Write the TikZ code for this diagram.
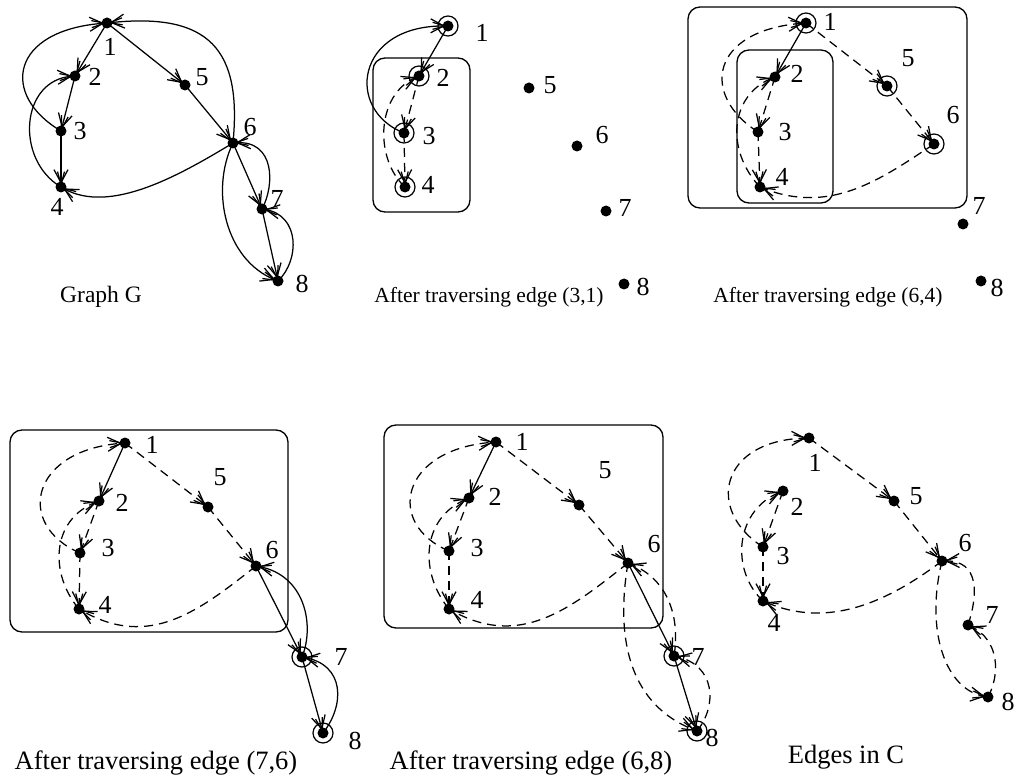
\documentclass[tikz,border=0pt]{standalone}
\usepackage{fontspec}
\setmainfont{Liberation Serif}
\usetikzlibrary{arrows.meta}
\begin{document}
\begin{tikzpicture}[x=1pt,y=-1pt,
  dot/.style={circle,fill=black,inner sep=0pt,minimum size=11pt},
  ring/.style={circle,draw=black,line width=1.2pt,inner sep=0pt,minimum size=20pt},
  lab/.style={font=\fontsize{26}{30}\selectfont,inner sep=0pt},
  captop/.style={font=\fontsize{21.5}{26}\selectfont,inner sep=0pt},
  capbot/.style={font=\fontsize{26.5}{30}\selectfont,inner sep=0pt},
  sol/.style={line width=1.25pt,-{Straight Barb[length=13pt,width=14pt,sep=-13pt]Straight Barb[length=13pt,width=7pt]}},
  dsh/.style={sol,dash pattern=on 9pt off 6pt},
  rbox/.style={draw,line width=1.3pt,rounded corners=12pt},
]
\useasboundingbox (0,0) rectangle (1018,778);

% ---------------- Panel 1: Graph G
\node[dot] (a1) at (107,23) {};
\node[dot] (a2) at (75,76) {};
\node[dot] (a3) at (61,131) {};
\node[dot] (a4) at (61,187) {};
\node[dot] (a5) at (185,85) {};
\node[dot] (a6) at (233,143) {};
\node[dot] (a7) at (262,209) {};
\node[dot] (a8) at (278,281) {};
\draw[sol] (a1.center) -- (a2.center);
\draw[sol] (a2.center) -- (a3.center);
\draw[sol] (a3.center) -- (a4.center);
\draw[sol] (a1.center) -- (a5.center);
\draw[sol] (a5.center) -- (a6.center);
\draw[sol] (a6.center) -- (a7.center);
\draw[sol] (a7.center) -- (a8.center);
\draw[sol] (a3.center) .. controls (0,95) and (10,30) .. (a1.center);
\draw[sol] (a4.center) .. controls (15,160) and (20,80) .. (a2.center);
\draw[sol] (a6.center) .. controls (242,50) and (210,12) .. (a1.center);
\draw[sol] (a6.center) .. controls (180,175) and (110,215) .. (a4.center);
\draw[sol] (a7.center) .. controls (275,185) and (275,140) .. (a6.center);
\draw[sol] (a8.center) .. controls (300,260) and (300,215) .. (a7.center);
\draw[sol] (a6.center) .. controls (210,190) and (225,260) .. (a8.center);
\node[lab] (la1) at (110,47) {1};
\node[lab] (la2) at (95,77) {2};
\node[lab] (la3) at (80,131) {3};
\node[lab] (la4) at (57,207) {4};
\node[lab] (la5) at (202,77) {5};
\node[lab] (la6) at (250,127) {6};
\node[lab] (la7) at (277,199) {7};
\node[lab] (la8) at (302,284) {8};
\node[captop,font=\fontsize{23.5}{28}\selectfont] (ca) at (101,297) {Graph G};

% ---------------- Panel 2
\draw[rbox] (373,58) rectangle (470,212);
\node[dot] (b1) at (448,26) {};
\node[dot] (b2) at (419,76) {};
\node[dot] (b3) at (404,133) {};
\node[dot] (b4) at (405,187) {};
\node[dot] (b5) at (529,88) {};
\node[dot] (b6) at (577,146) {};
\node[dot] (b7) at (606,211) {};
\node[dot] (b8) at (624,284) {};
\node[ring] (rb1) at (b1) {};
\node[ring] (rb2) at (b2) {};
\node[ring] (rb3) at (b3) {};
\node[ring] (rb4) at (b4) {};
\draw[sol] (b1.center) -- (b2.center);
\draw[sol] (b3.center) .. controls (345,110) and (355,25) .. (b1.center);
\draw[dsh] (b2.center) -- (b3.center);
\draw[dsh] (b3.center) -- (b4.center);
\draw[dsh] (b4.center) .. controls (375,160) and (375,95) .. (b2.center);
\node[lab] (lb1) at (482,33) {1};
\node[lab] (lb2) at (443,78) {2};
\node[lab] (lb3) at (429,136) {3};
\node[lab] (lb4) at (428,185) {4};
\node[lab] (lb5) at (550,85) {5};
\node[lab] (lb6) at (602,135) {6};
\node[lab] (lb7) at (625,208) {7};
\node[lab] (lb8) at (643,287) {8};
\node[captop] (cb) at (489,297) {After traversing edge (3,1)};

% ---------------- Panel 3
\draw[rbox] (688,7) rectangle (967,208);
\draw[rbox] (737,50) rectangle (833,203);
\node[dot] (c1) at (806,23) {};
\node[dot] (c2) at (775,77) {};
\node[dot] (c3) at (758,132) {};
\node[dot] (c4) at (760,187) {};
\node[dot] (c5) at (887,86) {};
\node[dot] (c6) at (934,144) {};
\node[dot] (c7) at (963,224) {};
\node[dot] (c8) at (981,281) {};
\node[ring] (rc1) at (c1) {};
\node[ring] (rc5) at (c5) {};
\node[ring] (rc6) at (c6) {};
\draw[sol] (c1.center) -- (c2.center);
\draw[dsh] (c2.center) -- (c3.center);
\draw[dsh] (c3.center) -- (c4.center);
\draw[dsh] (c4.center) .. controls (725,150) and (730,95) .. (c2.center);
\draw[dsh] (c3.center) .. controls (700,95) and (710,30) .. (c1.center);
\draw[dsh] (c1.center) -- (c5.center);
\draw[dsh] (c5.center) -- (c6.center);
\draw[dsh] (c6.center) .. controls (880,180) and (830,215) .. (c4.center);
\node[lab] (lc1) at (830,22) {1};
\node[lab] (lc2) at (797,74) {2};
\node[lab] (lc3) at (785,132) {3};
\node[lab] (lc4) at (782,177) {4};
\node[lab] (lc5) at (908,58) {5};
\node[lab] (lc6) at (953,115) {6};
\node[lab] (lc7) at (979,206) {7};
\node[lab] (lc8) at (997,288) {8};
\node[captop] (cc) at (828,297) {After traversing edge (6,4)};

% ---------------- Panel 4
\draw[rbox] (10,430) rectangle (288,632);
\node[dot] (d1) at (125,443) {};
\node[dot] (d2) at (99,501) {};
\node[dot] (d3) at (80,553) {};
\node[dot] (d4) at (79,609) {};
\node[dot] (d5) at (208,507) {};
\node[dot] (d6) at (256,566) {};
\node[dot] (d7) at (302,657) {};
\node[dot] (d8) at (323,733) {};
\node[ring] (rd7) at (d7) {};
\node[ring] (rd8) at (d8) {};
\draw[sol] (d1.center) -- (d2.center);
\draw[dsh] (d2.center) -- (d3.center);
\draw[dsh] (d3.center) -- (d4.center);
\draw[dsh] (d4.center) .. controls (50,575) and (50,520) .. (d2.center);
\draw[dsh] (d3.center) .. controls (15,525) and (30,450) .. (d1.center);
\draw[dsh] (d1.center) -- (d5.center);
\draw[dsh] (d5.center) -- (d6.center);
\draw[dsh] (d6.center) .. controls (200,610) and (150,650) .. (d4.center);
\draw[sol] (d6.center) -- (d7.center);
\draw[sol] (d7.center) -- (d8.center);
\draw[sol] (d7.center) .. controls (315,625) and (305,575) .. (d6.center);
\draw[sol] (d8.center) .. controls (345,705) and (345,665) .. (d7.center);
\node[lab] (ld1) at (152,445) {1};
\node[lab] (ld2) at (122,503) {2};
\node[lab] (ld3) at (108,548) {3};
\node[lab] (ld4) at (105,605) {4};
\node[lab] (ld5) at (220,477) {5};
\node[lab] (ld6) at (272,550) {6};
\node[lab] (ld7) at (341,657) {7};
\node[lab] (ld8) at (355,741) {8};
\node[capbot] (cd) at (156,763) {After traversing edge (7,6)};

% ---------------- Panel 5
\draw[rbox] (384,425) rectangle (663,628);
\node[dot] (e1) at (496,442) {};
\node[dot] (e2) at (469,498) {};
\node[dot] (e3) at (449,551) {};
\node[dot] (e4) at (449,609) {};
\node[dot] (e5) at (579,505) {};
\node[dot] (e6) at (628,563) {};
\node[dot] (e7) at (674,656) {};
\node[dot] (e8) at (697,731) {};
\node[ring] (re7) at (e7) {};
\node[ring] (re8) at (e8) {};
\draw[sol] (e1.center) -- (e2.center);
\draw[dsh] (e2.center) -- (e3.center);
\draw[dsh] (e3.center) -- (e4.center);
\draw[dsh] (e4.center) .. controls (420,574) and (420,519) .. (e2.center);
\draw[dsh] (e3.center) .. controls (385,524) and (400,449) .. (e1.center);
\draw[dsh] (e1.center) -- (e5.center);
\draw[dsh] (e5.center) -- (e6.center);
\draw[dsh] (e6.center) .. controls (570,609) and (520,649) .. (e4.center);
\draw[sol] (e6.center) -- (e7.center);
\draw[sol] (e7.center) -- (e8.center);
\draw[dsh] (e7.center) .. controls (680,620) and (670,580) .. (e6.center);
\draw[dsh] (e8.center) .. controls (718,705) and (715,665) .. (e7.center);
\draw[dsh] (e6.center) .. controls (615,640) and (630,705) .. (e8.center);
\node[lab] (le1) at (522,442) {1};
\node[lab] (le2) at (495,497) {2};
\node[lab] (le3) at (477,548) {3};
\node[lab] (le4) at (477,600) {4};
\node[lab] (le5) at (605,470) {5};
\node[lab] (le6) at (654,544) {6};
\node[lab] (le7) at (698,657) {7};
\node[lab] (le8) at (712,738) {8};
\node[capbot] (ce) at (531,763) {After traversing edge (6,8)};

% ---------------- Panel 6: Edges in C
\node[dot] (f1) at (809,438) {};
\node[dot] (f2) at (783,491) {};
\node[dot] (f3) at (763,547) {};
\node[dot] (f4) at (763,601) {};
\node[dot] (f5) at (894,501) {};
\node[dot] (f6) at (942,561) {};
\node[dot] (f7) at (968,625) {};
\node[dot] (f8) at (988,697) {};
\draw[dsh] (f1.center) -- (f5.center);
\draw[dsh] (f5.center) -- (f6.center);
\draw[dsh] (f6.center) .. controls (890,600) and (830,630) .. (f4.center);
\draw[dsh] (f3.center) .. controls (705,510) and (720,440) .. (f1.center);
\draw[dsh] (f4.center) .. controls (730,570) and (735,510) .. (f2.center);
\draw[dsh] (f2.center) -- (f3.center);
\draw[dsh] (f3.center) -- (f4.center);
\draw[dsh] (f6.center) .. controls (925,630) and (945,690) .. (f8.center);
\draw[dsh] (f8.center) .. controls (1000,675) and (1000,640) .. (f7.center);
\draw[dsh] (f7.center) .. controls (978,595) and (980,560) .. (f6.center);
\node[lab] (lf1) at (815,463) {1};
\node[lab] (lf2) at (797,507) {2};
\node[lab] (lf3) at (783,556) {3};
\node[lab] (lf4) at (774,623) {4};
\node[lab] (lf5) at (916,496) {5};
\node[lab] (lf6) at (965,543) {6};
\node[lab] (lf7) at (992,615) {7};
\node[lab] (lf8) at (1008,702) {8};
\node[capbot] (cf) at (846,757) {Edges in C};
\end{tikzpicture}
\end{document}
